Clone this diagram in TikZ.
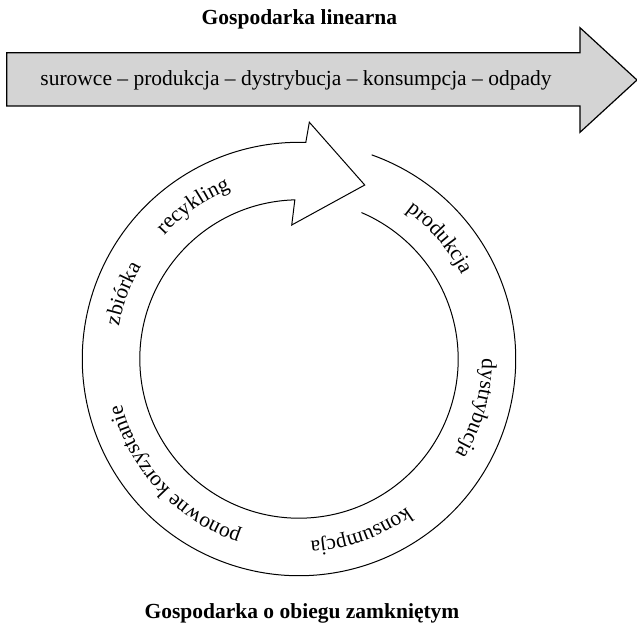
\documentclass[tikz,border=0pt]{standalone}
\usepackage{fontspec}
\setmainfont{Liberation Serif}
\usetikzlibrary{decorations.text}
\newcommand\lblfont{\fontsize{21.5}{26}\selectfont}
\begin{document}
\begin{tikzpicture}[x=1pt,y=1pt,
  lbl/.style={font=\lblfont, inner sep=0pt},
  ttl/.style={font=\lblfont\bfseries, inner sep=0pt},
  linarrow/.style={line width=1.2pt, fill=black!17, line join=miter},
  ring/.style={line width=1pt, line join=miter},
  ringtext/.style={decorate, decoration={text along path, text align=center, text={|\lblfont|#1}}}
]
\useasboundingbox (0,0) rectangle (637,625);
% linear economy
\node[ttl, anchor=base] (t1) at (299.4,600) {Gospodarka linearna};
\draw[linarrow] (6.7,572.3) -- (580,572.3) -- (580,597.3) -- (637,545) -- (580,492.7) -- (580,519) -- (6.7,519) -- cycle;
\node[lbl, anchor=base] (lin) at (296,539) {surowce – produkcja – dystrybucja – konsumpcja – odpady};
% circular economy
\coordinate (C) at (299,266);
\begin{scope}[shift={(C)}]
\draw[ring] (70.4:216.7) arc[start angle=70.4, end angle=-271.8, radius=216.7]
  -- (87.5:237) -- (69.3:186) -- (93.1:134.2) -- (91.5:159.2)
  arc[start angle=-268.5, end angle=66.9, radius=159.2];
\path[ringtext=produkcja] (80.7:183) arc[start angle=80.7, end angle=0.7, radius=183];
\path[ringtext=dystrybucja] (24.4:183) arc[start angle=24.4, end angle=-55.6, radius=183];
\path[ringtext=konsumpcja] (-30.2:183) arc[start angle=-30.2, end angle=-110.2, radius=183];
\path[ringtext=ponowne korzystanie] (-97:183) arc[start angle=-97, end angle=-177, radius=183];
\path[ringtext=zbiórka] (199.6:183) arc[start angle=199.6, end angle=119.6, radius=183];
\path[ringtext=recykling] (164.7:183) arc[start angle=164.7, end angle=84.7, radius=183];
\end{scope}
\node[ttl, anchor=base] (t2) at (302,7) {Gospodarka o obiegu zamkniętym};
\end{tikzpicture}
\end{document}
